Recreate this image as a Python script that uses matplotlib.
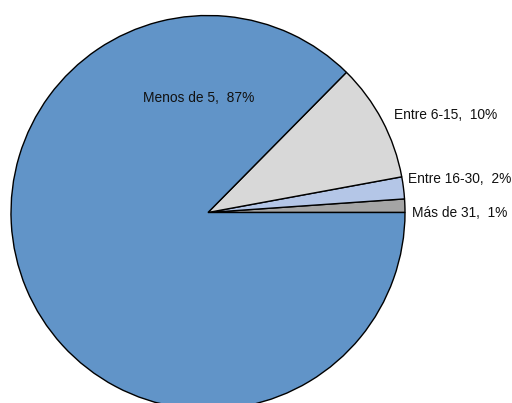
import matplotlib
matplotlib.use("Agg")
import matplotlib.pyplot as plt
from matplotlib import font_manager

# Datos
categorias = ["Más de 31", "Entre 16-30", "Entre 6-15", "Menos de 5"]
valores = [1.1, 1.8, 9.7, 87.4]
colores = ["#A5A5A5", "#B4C6E7", "#D8D8D8", "#6194C8"]

# posiciones de las etiquetas (pixeles de la imagen, y hacia abajo)
label_pos = [(412, 213, "left"), (408, 179, "left"), (394, 115, "left"), (199, 98, "center")]

fams = [f.name for f in font_manager.fontManager.ttflist]
if "Liberation Sans Narrow" in fams:
    fuente, tam = "Liberation Sans Narrow", 11.5
else:
    fuente, tam = "Liberation Sans", 9.9

W, H = 512, 403
fig = plt.figure(figsize=(W / 100, H / 100), dpi=100)
ax = fig.add_axes([0, 0, 1, 1])

ax.pie(valores, colors=colores, startangle=0, counterclock=True,
       center=(208, H - 212.5), radius=197, frame=True,
       wedgeprops=dict(edgecolor="black", linewidth=1.0))
ax.set_xlim(0, W)
ax.set_ylim(0, H)
ax.set_aspect("equal")
ax.axis("off")

for cat, v, (px, py, ha) in zip(categorias, valores, label_pos):
    ax.text(px, H - py, f"{cat},  {round(v)}%", ha=ha, va="center",
            fontsize=tam, family=fuente, color="#111111")

fig.savefig("out.png", dpi=100)
